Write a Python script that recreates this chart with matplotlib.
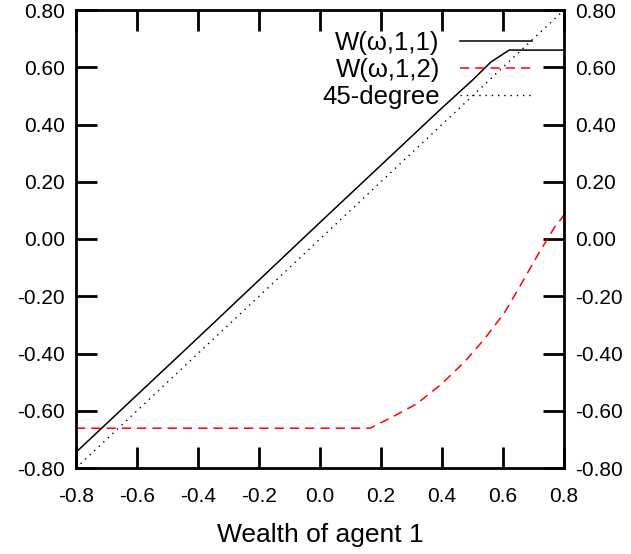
import matplotlib
matplotlib.use("Agg")
import matplotlib.pyplot as plt

plt.rcParams['font.family'] = ['Liberation Sans', 'DejaVu Sans']

# W(w,1,1): roughly linear, capped at the top
w1_x = [-0.8, -0.4, 0.0, 0.2, 0.4, 0.5, 0.56, 0.62, 0.8]
w1_y = [-0.745, -0.345, 0.058, 0.258, 0.458, 0.555, 0.618, 0.66, 0.66]

# W(w,1,2): flat floor, then convex rise
w2_x = [-0.8, 0.0, 0.164, 0.235, 0.317, 0.399, 0.475, 0.541, 0.607, 0.661,
        0.716, 0.770, 0.792, 0.8]
w2_y = [-0.661, -0.661, -0.661, -0.623, -0.576, -0.506, -0.428, -0.347,
        -0.254, -0.155, -0.052, 0.043, 0.072, 0.085]

# 45-degree reference line
deg_x = [-0.8, 0.8]
deg_y = [-0.8, 0.8]

xticks = [-0.8, -0.6, -0.4, -0.2, 0.0, 0.2, 0.4, 0.6, 0.8]
yticks = [-0.8, -0.6, -0.4, -0.2, 0.0, 0.2, 0.4, 0.6, 0.8]

fig = plt.figure(figsize=(6.31, 5.54), dpi=100)
ax = fig.add_axes([76 / 631, 1 - 468 / 554, 488 / 631, 458 / 554])

ax.plot(w1_x, w1_y, color='black', lw=1.1, label='W(\u03c9,1,1)')
ax.plot(w2_x, w2_y, color='red', lw=1.1, dashes=(6, 4), label='W(\u03c9,1,2)')
ax.plot(deg_x, deg_y, color='black', lw=1.0, dashes=(1, 3.5), label='45-degree')

ax.set_xlim(-0.8, 0.8)
ax.set_ylim(-0.8, 0.8)
ax.set_xticks(xticks)
ax.set_yticks(yticks)
ax.set_xticklabels(['%.1f' % v for v in xticks])
ax.set_yticklabels(['%.2f' % v for v in yticks])
ax.tick_params(direction='in', length=15, width=2, labelsize=15,
               top=True, right=True, labelright=True, pad=8)
ax.tick_params(axis='x', pad=14)
for s in ax.spines.values():
    s.set_linewidth(2)

ax.set_xlabel('Wealth of agent 1', fontsize=19, labelpad=12)

ax.legend(loc='upper right', bbox_to_anchor=(0.934, 0.955), frameon=False,
          markerfirst=False, fontsize=18.5, handlelength=2.8, handletextpad=0.78,
          labelspacing=0.13, borderpad=0, borderaxespad=0)

fig.savefig('out.png', dpi=100)
